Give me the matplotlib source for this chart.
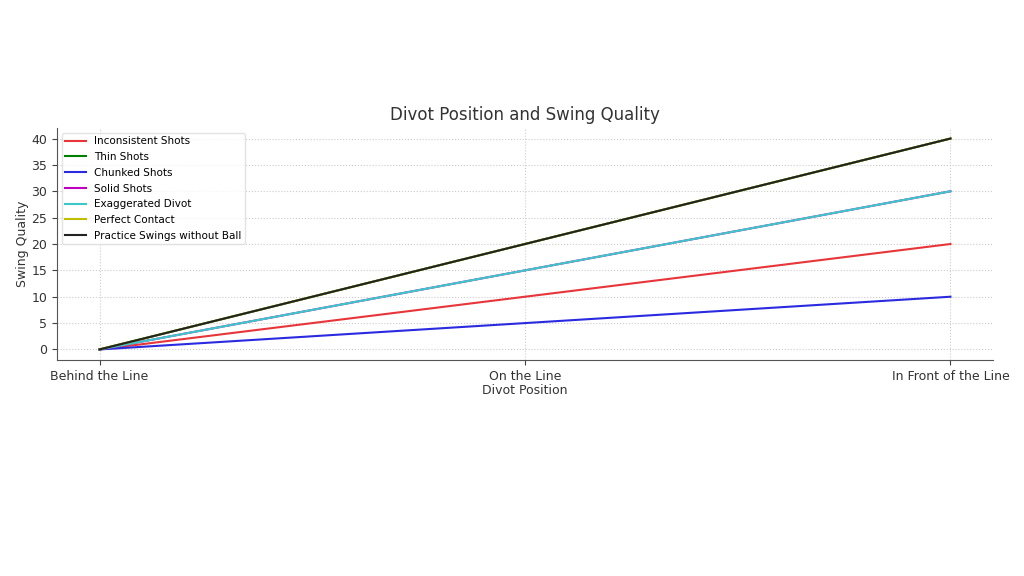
import matplotlib
matplotlib.use("Agg")
import matplotlib.pyplot as plt

positions = ["Behind the Line", "On the Line", "In Front of the Line"]
series_names = ["Inconsistent Shots", "Thin Shots", "Chunked Shots", "Solid Shots",
                "Exaggerated Divot", "Perfect Contact", "Practice Swings without Ball"]
inconsistent = [0, 10, 20]
thin = [0, 20, 40]
chunked = [0, 5, 10]
solid = [0, 15, 30]
exaggerated = [0, 15, 30]
perfect = [0, 20, 40]
practice = [0, 20, 40]
colors = ["#e8353a", "green", "#2a2ae0", "m", "#3cc8c8", "y", "#222222"]

values = [inconsistent, thin, chunked, solid, exaggerated, perfect, practice]

fig = plt.figure(figsize=(10.24, 5.76), dpi=100)
ax = fig.add_axes([57/1024, (576-360)/576, 936/1024, 232/576])
x = list(range(len(positions)))
for name, vals, c in zip(series_names, values, colors):
    ax.plot(x, vals, color=c, lw=1.5, label=name)

ax.set_xticks(x)
ax.set_xticklabels(positions)
ax.set_yticks(range(0, 41, 5))
ax.tick_params(labelsize=9, colors="#444444", labelcolor="#333333")
ax.set_title("Divot Position and Swing Quality", fontsize=12, color="#333333")
ax.set_xlabel("Divot Position", fontsize=9, color="#333333", labelpad=1)
ax.set_ylabel("Swing Quality", fontsize=9, color="#333333", labelpad=2)
ax.grid(True, linestyle=":", color="#cccccc", lw=0.8)
for s in ["top", "right"]:
    ax.spines[s].set_visible(False)
for s in ["left", "bottom"]:
    ax.spines[s].set_color("#555555")
ax.legend(loc="upper left", fontsize=7.5, frameon=True, framealpha=0.8,
          edgecolor="#dddddd", borderpad=0.3, labelspacing=0.55, handlelength=2)
fig.savefig("out.png", dpi=100, facecolor="white")
